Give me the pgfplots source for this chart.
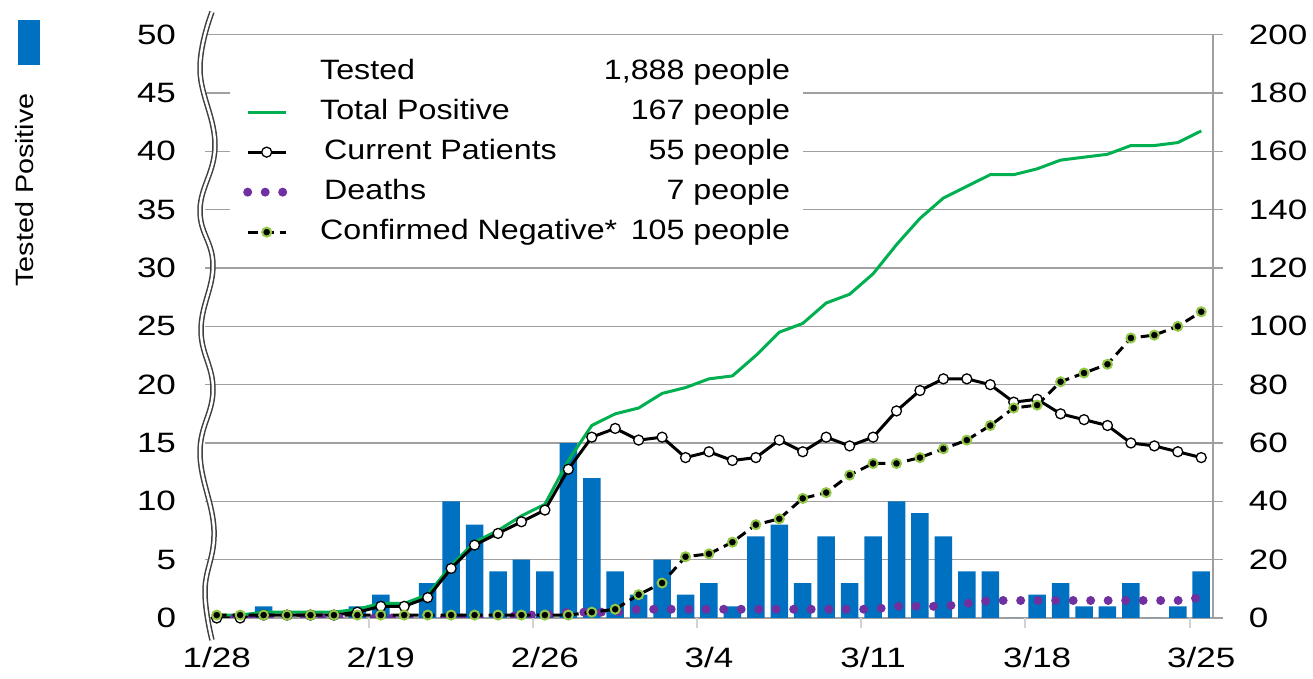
\documentclass[border=0pt]{standalone}
\usepackage{pgfplots}
\pgfplotsset{compat=1.18}
\usepackage{pgfplotstable}
\usepackage{fontspec}
\setmainfont{Liberation Sans}[FakeStretch=1.15]
\newfontfamily\tickfont{Liberation Sans}[FakeStretch=1.25]
\newcommand\ff{\fontsize{28}{32}\selectfont}
\newcommand\tf{\tickfont\fontsize{28}{32}\selectfont}

\definecolor{barblue}{RGB}{0,112,192}
\definecolor{posgreen}{RGB}{0,176,80}
\definecolor{deathpurple}{RGB}{112,48,160}
\definecolor{neggreen}{RGB}{146,200,70}
\definecolor{gridgray}{RGB}{160,160,160}
\definecolor{tickgray}{RGB}{210,210,210}

\pgfplotstableread{
idx bar total cur death neg
0 0 1 0 0 1
1 0 1 0 0 1
2 1 2 1 0 1
3 0 2 1 0 1
4 0 2 1 0 1
5 0 2 1 0 1
6 1 3 2 0 1
7 2 5 4 0 1
8 0 5 4 0 1
9 3 8 7 0 1
10 10 18 17 0 1
11 8 26 25 0 1
12 4 30 29 0 1
13 5 35 33 1 1
14 4 39 37 1 1
15 15 54 51 2 1
16 12 66 62 2 2
17 4 70 65 2 3
18 2 72 61 3 8
19 5 77 62 3 12
20 2 79 55 3 21
21 3 82 57 3 22
22 1 83 54 3 26
23 7 90 55 3 32
24 8 98 61 3 34
25 3 101 57 3 41
26 7 108 62 3 43
27 3 111 59 3 49
28 7 118 62 3 53
29 10 128 71 4 53
30 9 137 78 4 55
31 7 144 82 4 58
32 4 148 82 5 61
33 4 152 80 6 66
34 0 152 74 6 72
35 2 154 75 6 73
36 3 157 70 6 81
37 1 158 68 6 84
38 1 159 66 6 87
39 3 162 60 6 96
40 0 162 59 6 97
41 1 163 57 6 100
42 4 167 55 7 105
}\datatable

\begin{document}
\begin{tikzpicture}[x=1pt,y=1pt]
\useasboundingbox (0,0) rectangle (1313,679);
% left axis: bars
\begin{axis}[
  at={(205pt,61pt)}, anchor=south west,
  scale only axis, width=1008pt, height=583.3pt,
  xmin=-0.5, xmax=42.5, ymin=0, ymax=50,
  enlargelimits=false,
  axis line style={draw=none},
  ytick={0,5,...,50},
  ymajorgrids, grid style={gridgray, line width=1.5pt},
  ytick style={draw=none},
  xtick={0,7,14,21,28,35,42},
  xticklabels={1/28,2/19,2/26,3/4,3/11,3/18,3/25},
  xtick style={draw=none},
  extra x ticks={6.5,13.5,20.5,27.5,34.5,41.5},
  extra x tick labels={},
  extra x tick style={xtick style={draw=tickgray, line width=2pt}, major tick length=10pt, tick align=outside},
  xtick pos=bottom, ytick pos=left,
  /pgf/number format/assume math mode=true,
  tick label style={font=\tf, text=black},
  yticklabel style={xshift=-25.5pt},
  xticklabel style={yshift=-21pt},
  ybar, bar width=17.5pt,
]
\addplot[draw=none, fill=barblue] table[x=idx,y=bar]{\datatable};
\end{axis}
% right axis: lines
\begin{axis}[
  at={(205pt,61pt)}, anchor=south west,
  scale only axis, width=1008pt, height=583.3pt,
  xmin=-0.5, xmax=42.5, ymin=0, ymax=200,
  enlargelimits=false,
  axis x line=none,
  axis y line*=right,
  y axis line style={gridgray, line width=2pt, -},
  ytick={0,20,...,200},
  ytick style={gridgray, line width=1.5pt},
  major tick length=10pt, tick align=outside,
  /pgf/number format/assume math mode=true,
  tick label style={font=\tf, text=black},
  yticklabel style={xshift=22.5pt},
  legend style={at={(rel axis cs:0.0248,0.979)}, anchor=north west,
    draw=none, fill=white, inner xsep=13pt, inner ysep=12pt,
    nodes={inner sep=0pt, font=\ff, text height=20pt, text depth=6pt},
    column sep=30pt, row sep=14pt},
  legend cell align=left,
  legend image code/.code={\draw[mark repeat=2,mark phase=2,#1] plot coordinates {(0pt,0pt)(19pt,0pt)(38pt,0pt)};},
]
\addlegendimage{empty legend}
\addlegendentry{\makebox[470pt][l]{Tested\hfill 1,888 people}}
\addplot[posgreen, line width=3pt, no marks] table[x=idx,y=total]{\datatable};
\addlegendentry{\makebox[470pt][l]{Total Positive\hfill 167 people}}
\addplot[black, line width=3pt, mark=*, mark size=5pt, mark options={fill=white, draw=black, line width=1.3pt}] table[x=idx,y=cur]{\datatable};
\addlegendentry{\makebox[470pt][l]{\hspace{4pt}Current Patients\hfill 55 people}}
\addplot[deathpurple, line width=9pt, line cap=round, dash pattern=on 0pt off 17.5pt, no marks] table[x=idx,y=death]{\datatable};
\addlegendentry{\makebox[470pt][l]{\hspace{4pt}Deaths\hfill 7 people}}
\addplot[black, line width=3pt, dash pattern=on 10pt off 6pt, mark=*, mark size=4.5pt, mark options={solid, fill=black, draw=neggreen, line width=2pt}] table[x=idx,y=neg]{\datatable};
\addlegendentry{\makebox[470pt][l]{Confirmed Negative*\hfill 105 people}}
\end{axis}
% axis break (wavy double line)
\draw[black!75, line width=5.5pt] plot[smooth, tension=0.7] coordinates {(212,667) (200,609) (215,534) (200,469) (213,414) (201,349) (213,289) (200,226) (214,149) (205,89) (212,39)};
\draw[white, line width=2.5pt] plot[smooth, tension=0.7] coordinates {(212,667) (200,609) (215,534) (200,469) (213,414) (201,349) (213,289) (200,226) (214,149) (205,89) (212,39)};
% bar legend key and label
\fill[barblue] (18,614) rectangle (40,659);
\node[rotate=90, font=\fontsize{25}{28}\selectfont, inner sep=0pt] at (25,489) {Tested Positive};
\end{tikzpicture}
\end{document}
